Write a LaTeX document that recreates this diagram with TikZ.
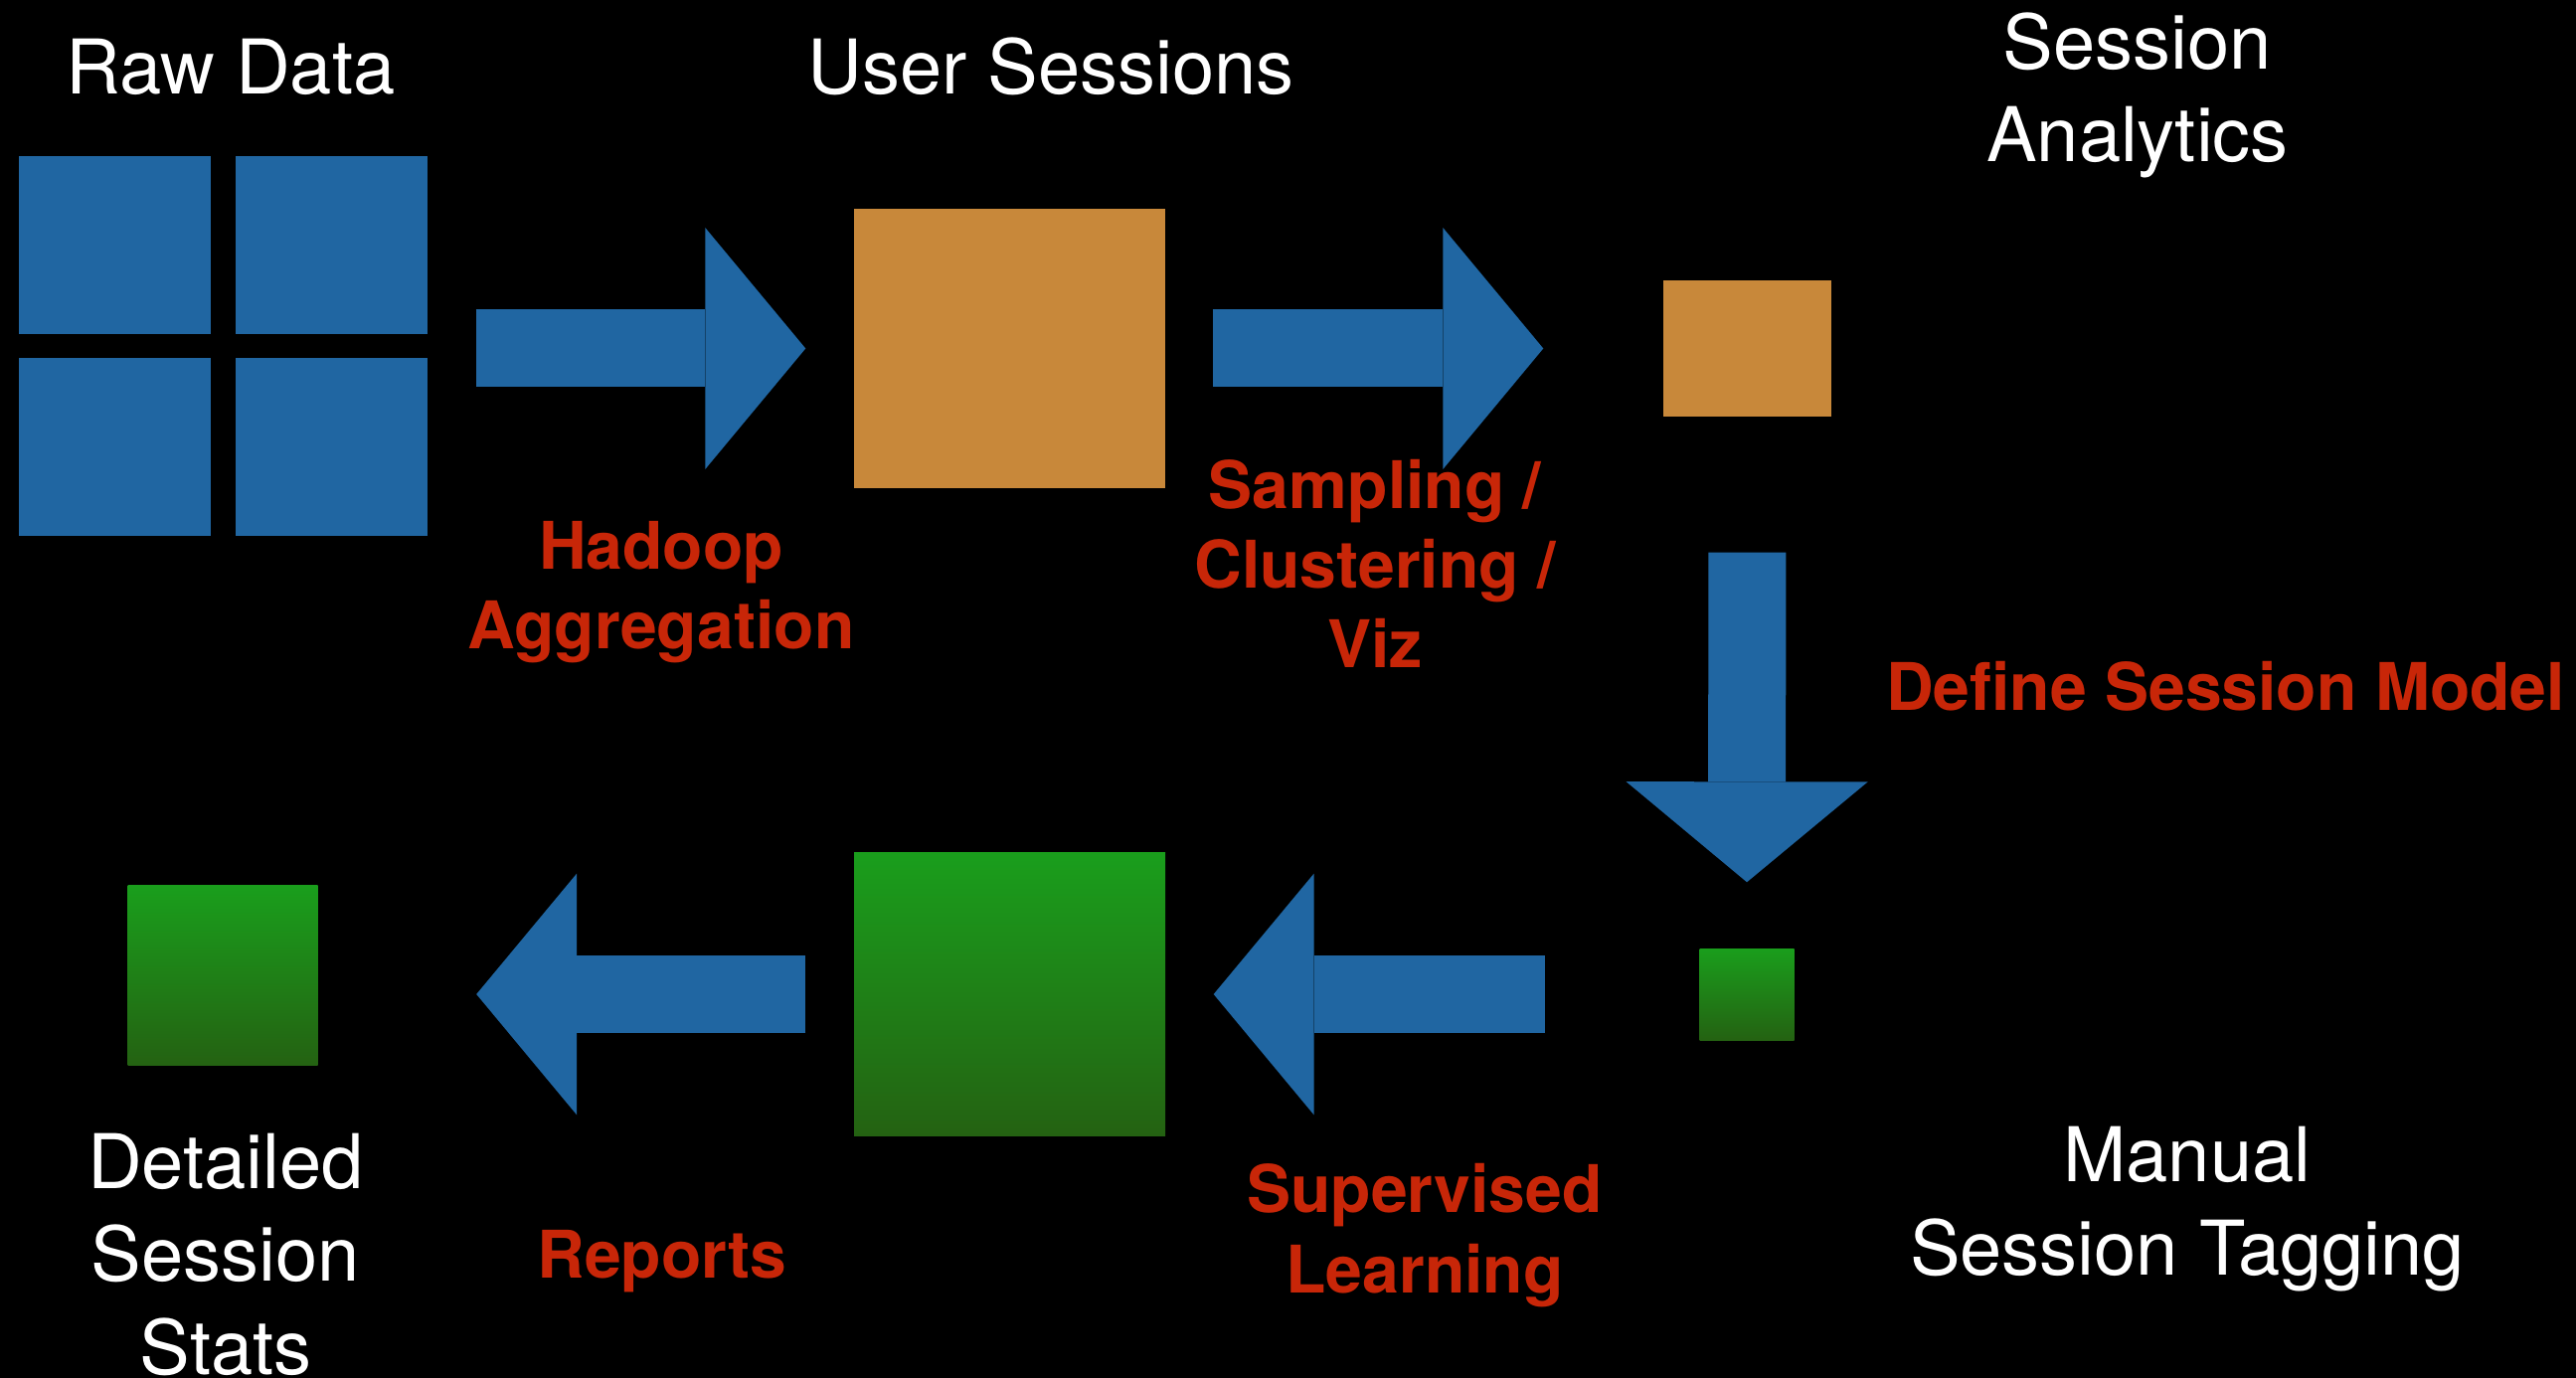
\documentclass[tikz,border=0pt]{standalone}
\usepackage{fontspec}
\setmainfont{TeX Gyre Heros}
\usetikzlibrary{arrows.meta}
\definecolor{tileblue}{RGB}{32,102,162}
\definecolor{sessorange}{RGB}{200,136,58}
\definecolor{labelred}{RGB}{200,38,8}
\definecolor{greentop}{RGB}{26,158,28}
\definecolor{greenbot}{RGB}{36,98,18}

\begin{document}
\begin{tikzpicture}[
  tile/.style={fill=tileblue,minimum width=1.93cm,minimum height=1.79cm,inner sep=0},
  orangebox/.style={fill=sessorange,inner sep=0},
  greenbox/.style={top color=greentop,bottom color=greenbot,inner sep=0},
  title/.style={text=white,font=\fontsize{21.6}{26.5}\selectfont,align=center,anchor=base,inner sep=0},
  redlabel/.style={text=labelred,font=\fontsize{18.8}{22.8}\selectfont\bfseries,align=center,anchor=base,inner sep=0},
  fatarrow/.style={draw=tileblue,line width=0.78cm,-{Triangle[length=1.01cm,width=2.43cm,line width=0pt]}}]
\useasboundingbox (0,0) rectangle (25.91,-13.86);
\fill[black] (0,0) rectangle (25.91,-13.86);

\node[tile] (r1) at (1.155,-2.465) {};
\node[tile] (r2) at (3.335,-2.465) {};
\node[tile] (r3) at (1.155,-4.495) {};
\node[tile] (r4) at (3.335,-4.495) {};
\node[orangebox,minimum width=3.13cm,minimum height=2.81cm] (users) at (10.155,-3.505) {};
\node[orangebox,minimum width=1.69cm,minimum height=1.37cm] (analytics) at (17.575,-3.505) {};
\node[greenbox,minimum width=0.95cm,minimum height=0.92cm] (tagging) at (17.57,-10) {};
\node[greenbox,minimum width=3.13cm,minimum height=2.84cm] (learned) at (10.155,-10) {};
\node[greenbox,minimum width=1.91cm,minimum height=1.80cm] (stats) at (2.24,-9.81) {};

\node[title] (rawlbl) at (2.32,-0.95) {Raw Data};
\node[title] (userlbl) at (10.57,-0.95) {User Sessions};
\node[title] (analbl) at (21.5,-1.63) {Session\\Analytics};
\node[title] (taglbl) at (22.0,-12.82) {Manual\\Session Tagging};
\node[title] (statlbl) at (2.27,-13.82) {Detailed\\Session\\Stats};

\node[redlabel] (hadoop) at (6.65,-6.53) {Hadoop\\Aggregation};
\node[redlabel] (sampling) at (13.83,-6.72) {Sampling /\\Clustering /\\Viz};
\node[redlabel] (define) at (22.385,-7.15) {Define Session Model};
\node[redlabel] (reports) at (6.66,-12.85) {Reports};
\node[redlabel] (supervised) at (14.33,-13.0) {Supervised\\Learning};

\draw[fatarrow,shorten <=0.48cm,shorten >=0.48cm] (r2.east |- users.west) -- (users.west);
\draw[fatarrow,shorten <=0.47cm,shorten >=1.20cm] (users.east) -- (analytics.west);
\draw[fatarrow,shorten <=1.36cm,shorten >=0.66cm] (analytics.south) -- (tagging.north);
\draw[fatarrow,shorten <=1.55cm,shorten >=0.48cm] (tagging.west) -- (learned.east);
\draw[fatarrow,shorten <=0.48cm,shorten >=1.59cm] (learned.west) -- (stats.east |- learned.west);
\end{tikzpicture}
\end{document}
